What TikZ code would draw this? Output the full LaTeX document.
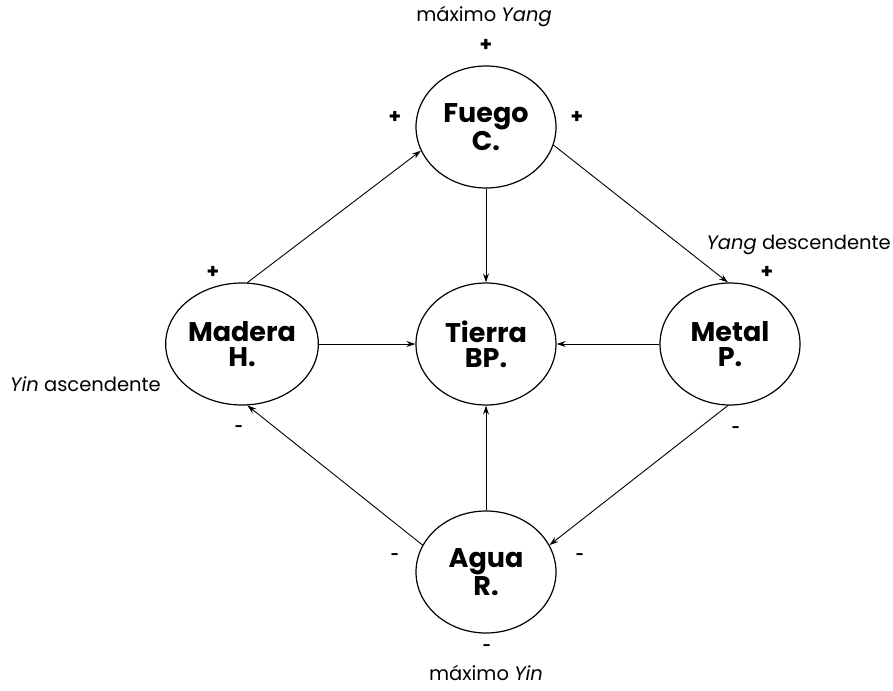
\documentclass[tikz,border=0pt]{standalone}
\usepackage{fontspec}
\setmainfont{Poppins}
\usetikzlibrary{shapes.geometric,arrows.meta}
\tikzset{
  elem/.style={ellipse, draw, line width=1.2pt, minimum width=140pt, minimum height=122pt, inner sep=0pt, align=center, font=\fontsize{27}{25}\selectfont\bfseries},
  conn/.style={line width=0.9pt, -{Stealth[length=9pt,width=6pt]}},
  sign/.style={font=\fontsize{20}{20}\selectfont\bfseries, inner sep=0pt},
  msign/.style={font=\fontsize{14}{14}\selectfont\bfseries, inner sep=0pt},
  lab/.style={font=\fontsize{19.5}{22}\selectfont, inner sep=0pt}
}
\begin{document}
\begin{tikzpicture}[x=1pt,y=-1pt]
\useasboundingbox (0,0) rectangle (893,690);
\node[elem] (fuego) at (486,127) {Fuego\\C.};
\node[elem] (madera) at (242,344) {Madera\\H.};
\node[elem] (tierra) at (486,344) {Tierra\\BP.};
\node[elem] (metal) at (730,344) {Metal\\P.};
\node[elem] (agua) at (486,572) {Agua\\R.};

\draw[conn] (madera.85) -- (fuego.200);
\draw[conn] (fuego.south) -- (tierra.north);
\draw[conn] (fuego.345) -- (metal.92);
\draw[conn] (madera.east) -- (tierra.west);
\draw[conn] (metal.west) -- (tierra.east);
\draw[conn] (agua.north) -- (tierra.south);
\draw[conn] (agua.157) -- (madera.275);
\draw[conn] (metal.268) -- (agua.23);

\node[lab] (mya) at (484,17) {máximo \textit{Yang}};
\node[sign] (p1) at (486,45) {+};
\node[sign] (p2) at (395,117) {+};
\node[sign] (p3) at (577,117) {+};
\node[lab, anchor=east] (yd) at (891,245) {\textit{Yang} descendente};
\node[sign] (p4) at (767,272) {+};
\node[sign] (p5) at (213,272) {+};
\node[lab, anchor=west] (ya) at (10,384) {\textit{Yin} ascendente};
\node[msign] (m1) at (239,429) {-};
\node[msign] (m2) at (736,430) {-};
\node[msign] (m3) at (395,557) {-};
\node[msign] (m4) at (580,557) {-};
\node[msign] (m5) at (487,648) {-};
\node[lab] (myi) at (486,673) {máximo \textit{Yin}};
\end{tikzpicture}
\end{document}
